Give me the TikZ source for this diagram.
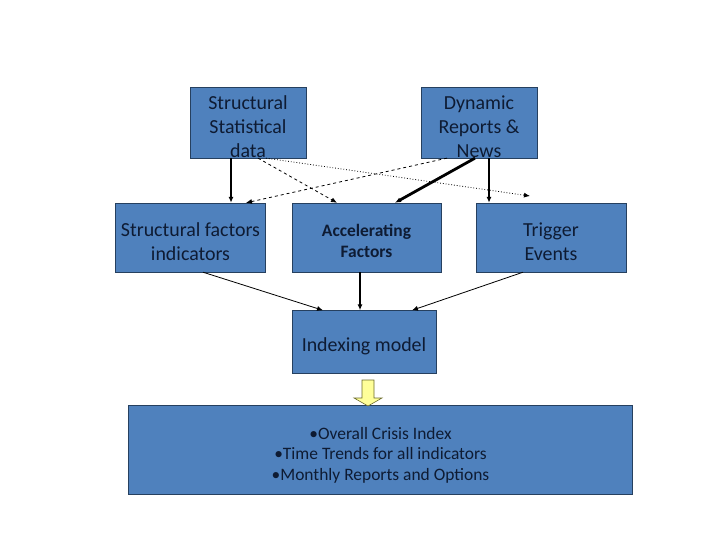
\documentclass[tikz,border=0pt]{standalone}
\usepackage{fontspec}
\setmainfont{Carlito}
\usepackage{xcolor}
\usetikzlibrary{arrows.meta}
\definecolor{boxblue}{HTML}{4F81BD}
\definecolor{boxline}{HTML}{26405F}
\definecolor{boxtext}{HTML}{0E1B33}
\definecolor{hintyellow}{HTML}{FFFF99}
\definecolor{hintline}{HTML}{6B6B2A}
\newcommand\lowtext[1][1.15em]{\rule{0pt}{#1}}

\begin{document}
\begin{tikzpicture}[x=1bp, y=-1bp,
    blockbox/.style={draw=boxline, fill=boxblue, text=boxtext, align=center,
      inner sep=0pt, font=\fontsize{20}{24}\selectfont},
    link/.style={-{Latex[length=6bp,width=5bp]}, black, line width=0.8bp}]
  \useasboundingbox (0,0) rectangle (720,540);
  % Sources
  \node[blockbox, minimum width=116bp, minimum height=69bp] (ssd) at (248,122.5) {\lowtext Structural\\Statistical\\data};
  \node[blockbox, minimum width=116bp, minimum height=69bp] (drn) at (479,122.5) {\lowtext Dynamic\\Reports \&\\News};
  % Factor boxes
  \node[blockbox, minimum width=150bp, minimum height=69bp] (sfi) at (190.5,237.5) {\lowtext Structural factors\\indicators};
  \node[blockbox, minimum width=149bp, minimum height=69bp,
    font=\fontsize{17.5}{21}\selectfont\bfseries] (acc) at (366.5,237.5) {\lowtext Accelerating\\Factors};
  \node[blockbox, minimum width=150bp, minimum height=69bp] (trg) at (551,237.5) {\lowtext Trigger\\Events};
  % Model and output
  \node[blockbox, minimum width=144bp, minimum height=63bp] (idx) at (364,342) {\lowtext Indexing model};
  \node[blockbox, minimum width=504bp, minimum height=89bp,
    font=\fontsize{17.5}{21}\selectfont] (out) at (380.5,450) {\lowtext[1.3em]•Overall Crisis Index\\•Time Trends for all indicators\\•Monthly Reports and Options};
  % Links from the sources
  \draw[link, line width=1.4bp] (ssd.south -| 231,0) -- (sfi.north -| 231,0);
  \draw[link, dashed] (ssd.south -| 258,0) -- (acc.north -| 337,0);
  \draw[link, dotted] (ssd.south -| 266,0) -- (530,196);
  \draw[link, dashed] (drn.south -| 447,0) -- (sfi.north -| 246,0);
  \draw[link, line width=2.8bp] (drn.south -| 475,0) -- (acc.north -| 395,0);
  \draw[link, line width=1.8bp] (drn.south -| 489,0) -- (trg.north -| 489,0);
  % Into the model
  \draw[link] (sfi.south -| 203,0) -- (idx.north -| 323,0);
  \draw[link, line width=1.8bp] (acc.south -| 360,0) -- (idx.north -| 360,0);
  \draw[link] (trg.south -| 523,0) -- (idx.north -| 412,0);
  % Block arrow
  \filldraw[fill=hintyellow, draw=hintline, line width=0.6bp]
    (362,380) -- (374,380) -- (374,398) -- (382,398) -- (368,406) -- (354,398) -- (362,398) -- cycle;
\end{tikzpicture}
\end{document}
